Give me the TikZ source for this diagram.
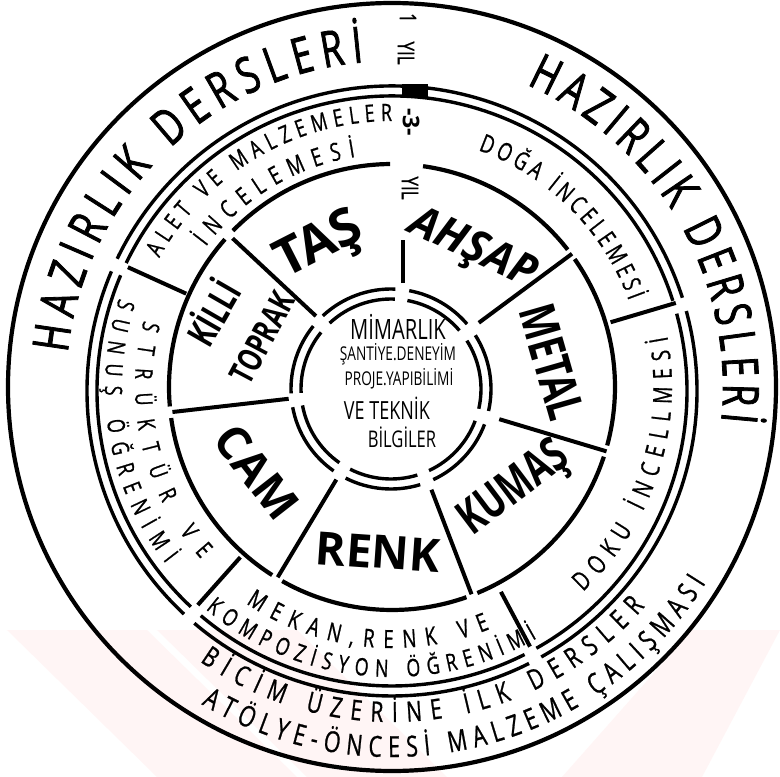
\documentclass[tikz,border=0pt]{standalone}
\usepackage{fontspec}
\setmainfont{Open Sans}
\newfontfamily\condfont[FakeStretch=0.72]{Open Sans}
\newfontfamily\heavyfont[FakeStretch=0.72,FakeBold=1.6]{Open Sans}
\newfontfamily\medfont[FakeStretch=0.74,FakeBold=0.8]{Open Sans}
\usetikzlibrary{decorations.text}
\begin{document}
\begin{tikzpicture}[x=1pt,y=1pt,
  ring/.style={line width=4.2pt},
  dring/.style={line width=3.4pt},
  spoke/.style={line width=4pt},
  arclab/.style={decorate,decoration={text along path,text align={fit to path},text={#1}}},
  big/.style={inner sep=0pt},
  mid/.style={inner sep=0pt},
  yil/.style={font=\medfont\fontsize{23}{23}\selectfont,inner sep=0pt,rotate=-90},
  wm/.style={fill=red!7,opacity=0.55},
]
\useasboundingbox (-392,-390) rectangle (388,387);
\fill[white] (-392,-390) rectangle (388,387);
% watermark (faint)
\fill[wm] (-385,-243) -- (-245,-243) -- (-95,-390) -- (-235,-390) -- cycle;
\fill[wm] (-235,-243) -- (-95,-243) -- (55,-390) -- (-85,-390) -- cycle;
\fill[wm] (388,-243) -- (300,-243) -- (170,-390) -- (310,-390) -- cycle;
% circles
\coordinate (C) at (0,0);
\coordinate (Ci) at (-1,-2);
\coordinate (Cd) at (0,-4);
\draw[ring] (C) circle[radius=384];
% double ring, broken where the spokes meet it
\foreach \s/\e in {17.8/154.3, 156.9/227, 229.6/296.7, 299.3/375.2}{
  \draw[dring] (Cd) ++(\s:305) arc[start angle=\s,end angle=\e,radius=305];
  \draw[dring] (Cd) ++(\s:295) arc[start angle=\s,end angle=\e,radius=295];
}
\fill (10,303) rectangle (36,289);
% middle circle, broken
\foreach \s/\e in {90.5/135.5, 138.5/185, 188/237.5, 240.5/289.5, 292.5/341.8, 344.8/395, 38/82}{
  \draw[ring] (C) ++(\s:223) arc[start angle=\s,end angle=\e,radius=223];
}
% inner double ring, broken
\foreach \s/\e in {87.5/133, 141/182.5, 190.5/235, 243/287, 295/339.3, 347.3/392.5, 40.5/79.5}{
  \draw[dring] (Ci) ++(\s:100) arc[start angle=\s,end angle=\e,radius=100];
  \draw[dring] (Ci) ++(\s:90) arc[start angle=\s,end angle=\e,radius=90];
}
% inner spokes
\coordinate (s1a) at (11,104); \coordinate (s1b) at (11,147);
\draw[spoke] (s1a) -- (s1b);
\foreach \a/\ri/\ro [count=\i] in {137/104/218, 186.5/104/221, 239/108/222, 291/110/222, 343.3/112/224, 36.5/108/224}{
  \coordinate (i\i a) at (\a:\ri); \coordinate (i\i b) at (\a:\ro);
  \draw[spoke] (i\i a) -- (i\i b);
}
% middle spokes
\foreach \a/\ri/\ro [count=\i] in {155.6/226/290, 228.3/228/292, 298/232/294, 16.5/228/296}{
  \coordinate (m\i a) at (\a:\ri); \coordinate (m\i b) at (\a:\ro);
  \draw[spoke] (m\i a) -- (m\i b);
}
% outer ring labels
\path[arclab={|\heavyfont\fontsize{50}{50}\selectfont|HAZIRLIK DERSLERİ}] (174:326) arc[start angle=174,end angle=95,radius=326];
\path[arclab={|\heavyfont\fontsize{50}{50}\selectfont|HAZIRLIK DERSLERİ}] (66:331) arc[start angle=66,end angle=-6,radius=331];
\path[arclab={|\medfont\fontsize{28}{28}\selectfont|BİCİM ÜZERİNE İLK DERSLER}] (235:335) arc[start angle=235,end angle=319,radius=335];
\path[arclab={|\medfont\fontsize{29}{29}\selectfont|ATÖLYE-ÖNCESİ MALZEME ÇALIŞMASI}] (239:370) arc[start angle=239,end angle=328,radius=370];
% middle ring labels
\path[arclab={|\medfont\fontsize{24}{24}\selectfont|ALET VE MALZEMELER}] (151:266) arc[start angle=151,end angle=90,radius=266];
\path[arclab={|\medfont\fontsize{25}{25}\selectfont|İNCELEMESİ}] (143:233) arc[start angle=143,end angle=99,radius=233];
\path[arclab={|\medfont\fontsize{25}{25}\selectfont|DOĞA İNCELEMESİ}] (70:252) arc[start angle=70,end angle=20,radius=252];
\path[arclab={|\medfont\fontsize{26}{26}\selectfont|DOKU İNCELLMESİ}] (-47:280) arc[start angle=-47,end angle=10.5,radius=280];
\path[arclab={|\medfont\fontsize{24}{24}\selectfont|STRÜKTÜR VE}] (165:257) arc[start angle=165,end angle=222,radius=257];
\path[arclab={|\medfont\fontsize{24}{24}\selectfont|SUNUŞ ÖĞRENİMİ}] (162:287) arc[start angle=162,end angle=218,radius=287];
\path[arclab={|\medfont\fontsize{25}{25}\selectfont|MEKAN,RENK VE}] (236:261) arc[start angle=236,end angle=292,radius=261];
\path[arclab={|\medfont\fontsize{24}{24}\selectfont|KOMPOZİSYON ÖĞRENİMİ}] (230:290) arc[start angle=230,end angle=300,radius=290];
% year labels
\node[yil] (y1a) at (16,369) {1};
\node[yil] (y1b) at (14,334) {YIL};
\node[yil,font=\bfseries\fontsize{23}{23}\selectfont] (y3a) at (19,265) {-3-};
\node[yil] (y3b) at (18,199) {YIL};
% inner ring labels
\node[big,font=\bfseries\fontsize{52}{52}\selectfont,rotate=27] (tas) at (-72,140) {TAŞ};
\node[big,font=\bfseries\itshape\fontsize{44}{44}\selectfont,rotate=-25] (ahsap) at (80,137) {AHŞAP};
\node[big,font=\condfont\bfseries\fontsize{50}{50}\selectfont,rotate=-74] (metal) at (160,25) {METAL};
\node[big,font=\condfont\bfseries\fontsize{48}{48}\selectfont,rotate=37] (kumas) at (123,-103) {KUMAŞ};
\node[big,font=\bfseries\fontsize{46}{46}\selectfont,rotate=-4] (renk) at (-14,-165) {RENK};
\node[big,font=\bfseries\fontsize{46}{46}\selectfont,rotate=-52] (cam) at (-135,-85) {CAM};
\node[big,font=\condfont\bfseries\fontsize{38}{38}\selectfont,rotate=60] (killi) at (-181,75) {KİLLİ};
\node[big,font=\condfont\bfseries\fontsize{34}{34}\selectfont,rotate=62] (toprak) at (-130,49) {TOPRAK};
% centre
\node[mid,font=\condfont\fontsize{28}{28}\selectfont] (c1) at (6,60) {MİMARLIK};
\node[mid,font=\condfont\fontsize{19}{19}\selectfont] (c2) at (6,33) {ŞANTİYE.DENEYİM};
\node[mid,font=\condfont\fontsize{19}{19}\selectfont] (c3) at (7,8) {PROJE.YAPIBİLİMİ};
\node[mid,font=\condfont\fontsize{25}{25}\selectfont] (c4) at (-5,-21) {VE TEKNİK};
\node[mid,font=\condfont\fontsize{23}{23}\selectfont] (c5) at (10,-50) {BİLGİLER};
\end{tikzpicture}
\end{document}
